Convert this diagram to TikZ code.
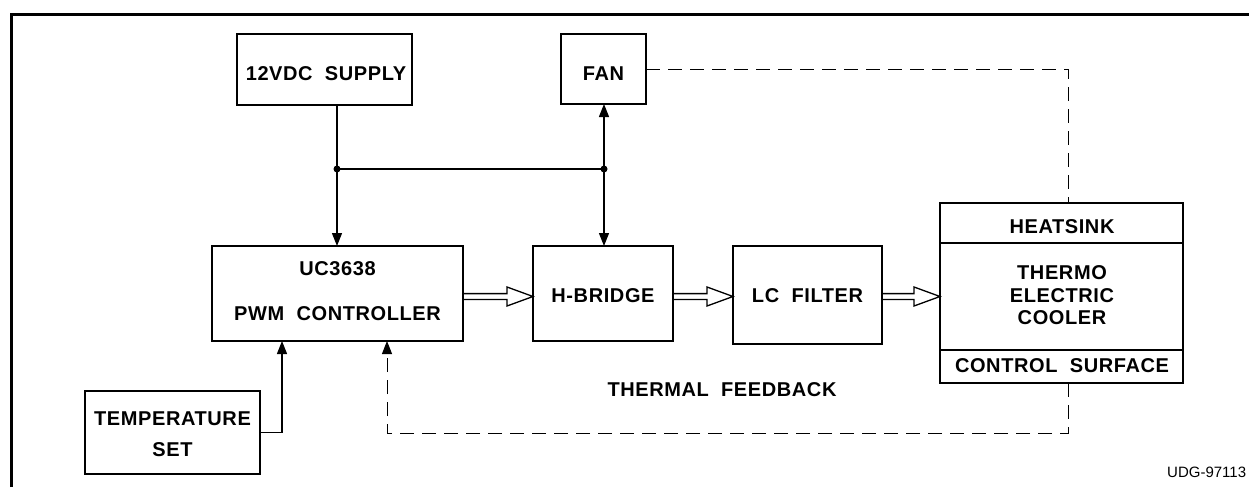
\documentclass[tikz,border=0pt]{standalone}
\usepackage{fontspec}
\usetikzlibrary{arrows.meta,calc}
\newfontfamily\labfont[LetterSpace=3]{Liberation Sans}
\newfontfamily\tagfont{Liberation Sans}
\begin{document}
\begin{tikzpicture}[x=1pt,y=-1pt,
  boxline/.style={line width=1.3pt},
  box/.style={draw,line width=1.3pt,inner sep=0pt,outer sep=0pt,rectangle},
  lab/.style={inner sep=0pt,font=\labfont\bfseries\fontsize{20}{22}\selectfont,align=center},
  wire/.style={line width=1.2pt},
  arr/.style={wire,-{Triangle[length=13pt,width=10pt]}},
  dashline/.style={line width=1pt,dash pattern=on 14pt off 8pt},
  dot/.style={circle,fill,inner sep=0pt,minimum size=7pt}]
\useasboundingbox (0,0) rectangle (1249,487);
% frame
\draw[line width=3pt,line join=miter] (11.3,487) -- (11.3,14.5) -- (1249,14.5);
% boxes
\node[box,minimum width=175,minimum height=71] (supply) at (324.5,69.5) {};
\node[box,minimum width=85,minimum height=70] (fan) at (603.5,69) {};
\node[box,minimum width=251,minimum height=95] (pwm) at (337.5,293.5) {};
\node[box,minimum width=140,minimum height=95] (hb) at (603,293.5) {};
\node[box,minimum width=149,minimum height=98] (lc) at (807.5,295) {};
\node[box,minimum width=243,minimum height=180] (tec) at (1061.5,293) {};
\node[box,minimum width=175,minimum height=83] (temp) at (172.5,432.5) {};
% labels
\node[lab] (tsupply) at (326,74) {12VDC~~SUPPLY};
\node[lab] (tfan) at (603.5,73.5) {FAN};
\node[lab] (tpwm1) at (337.5,269) {UC3638};
\node[lab] (tpwm2) at (337.5,314) {PWM~~CONTROLLER};
\node[lab] (thb) at (603,295.5) {H-BRIDGE};
\node[lab] (tlc) at (807.5,295.5) {LC~~FILTER};
\node[lab] (theat) at (1062,227) {HEATSINK};
\node[lab] (tthermo) at (1062,272.5) {THERMO};
\node[lab] (telec) at (1062,295.5) {ELECTRIC};
\node[lab] (tcool) at (1062,317.5) {COOLER};
\node[lab] (tctrl) at (1062,365.5) {CONTROL~~SURFACE};
\node[lab] (ttemp1) at (172.5,418.5) {TEMPERATURE};
\node[lab] (ttemp2) at (172.5,450) {SET};
\node[lab] (tfb) at (722,390) {THERMAL~~FEEDBACK};
\node[anchor=base west,inner sep=0pt,font=\tagfont\fontsize{15}{18}\selectfont] (udg) at (1167,477) {UDG-97113};
% TEC dividers
\coordinate (d1) at (0,243);
\coordinate (d2) at (0,350);
\draw[boxline] (tec.west |- d1) -- (tec.east |- d1);
\draw[boxline] (tec.west |- d2) -- (tec.east |- d2);
% power distribution
\coordinate (j1) at (337,169);
\coordinate (j2) at (604,169);
\draw[wire] (supply.south -| j1) -- (j1);
\draw[wire] (j1) -- (j2);
\draw[arr] (j1) -- (pwm.north -| j1);
\draw[arr] (j2) -- (fan.south -| j2);
\draw[arr] (j2) -- (hb.north -| j2);
\node[dot] (dot1) at (j1) {};
\node[dot] (dot2) at (j2) {};
% hollow double arrows
\coordinate (ar) at (0,296.5);
\newcommand\dblarrow[2]{%
  \draw[boxline,line join=miter]
    ($(#1.east|-ar)+(0,-2.9)$) -- ($(#2.west|-ar)+(-26,-2.9)$) --
    ($(#2.west|-ar)+(-26,-9.5)$) -- (#2.west|-ar) --
    ($(#2.west|-ar)+(-26,9.5)$) -- ($(#2.west|-ar)+(-26,2.9)$) --
    ($(#1.east|-ar)+(0,2.9)$);}
\dblarrow{pwm}{hb}
\dblarrow{hb}{lc}
\dblarrow{lc}{tec}
% temperature set
\coordinate (tc) at (282,431);
\draw[arr] (temp.east) -- (temp.east -| tc) -- (pwm.south -| tc);
% fan to heatsink (dashed)
\coordinate (dc) at (1068,69);
\draw[dashline] (fan.east) -- (dc) -- (dc |- tec.north);
% thermal feedback (dashed)
\coordinate (fb) at (1068,433);
\coordinate (fbx) at (387,433);
\draw[dashline,-{Triangle[length=13pt,width=10pt]}] (tec.south -| fb) -- (fb) -- (fbx) -- (pwm.south -| fbx);
\end{tikzpicture}
\end{document}
